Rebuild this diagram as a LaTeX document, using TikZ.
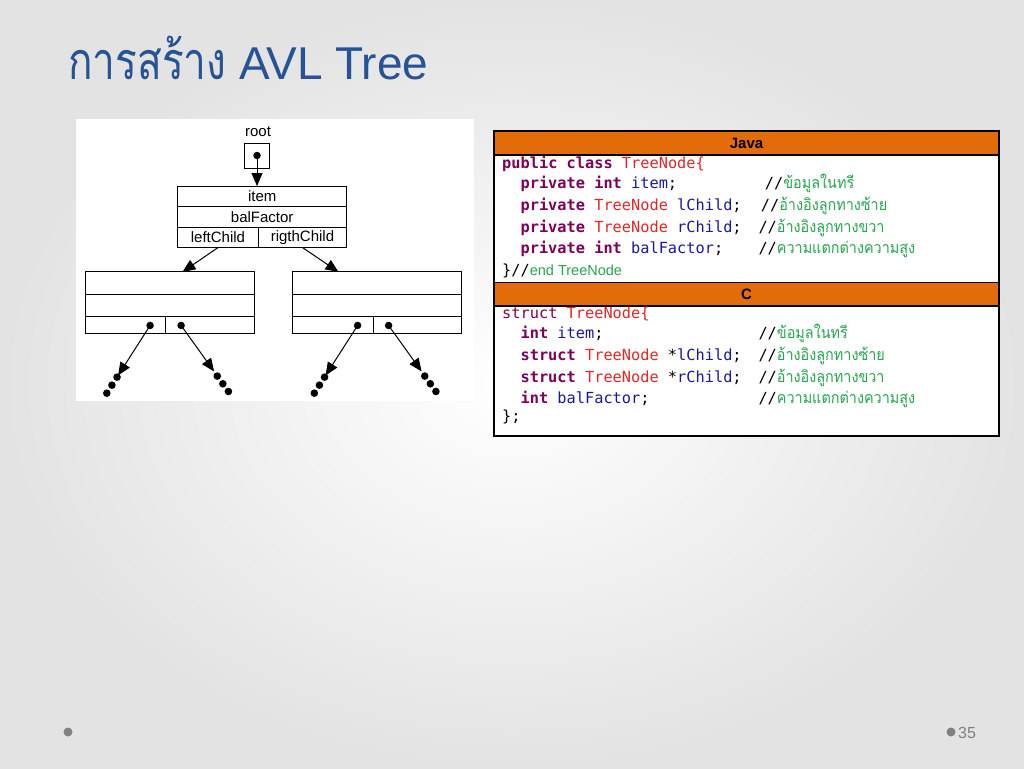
\documentclass[tikz,border=0pt]{standalone}
\usepackage{fontspec}
\setmainfont{Liberation Sans}
\setmonofont{DejaVu Sans Mono}
\newfontfamily\thaifont[Script=Thai,FakeStretch=0.9]{Loma}
\newfontfamily\thaititle[Script=Thai,FakeStretch=0.78]{Loma}
\usetikzlibrary{positioning,arrows.meta,calc}
\definecolor{titleblue}{RGB}{38,82,150}
\definecolor{hdrorange}{RGB}{227,108,10}
\definecolor{kwpurple}{RGB}{127,0,85}
\definecolor{idblue}{RGB}{25,25,160}
\definecolor{typered}{RGB}{225,40,40}
\definecolor{cmtgreen}{RGB}{40,165,80}
\definecolor{footgray}{RGB}{128,128,128}
\newcommand{\kw}[1]{\textcolor{kwpurple}{\textbf{#1}}}
\newcommand{\idn}[1]{\textcolor{idblue}{#1}}
\newcommand{\ty}[1]{\textcolor{typered}{#1}}
\newcommand{\thcmt}[1]{//{\color{cmtgreen}\thaifont\fontsize{16}{16}\selectfont #1}}
\tikzset{
  cell/.style={draw, line width=1pt, inner sep=0pt, outer sep=0pt, minimum height=20.5pt,
    font=\fontsize{15}{15}\selectfont},
  ptr/.style={-{Triangle[length=13pt,width=11pt]}, line width=1pt},
  ptrdot/.style={fill, circle, inner sep=0pt, minimum size=7.5pt},
  hdr/.style={draw, line width=1.2pt, fill=hdrorange, minimum width=505pt, minimum height=24pt,
    inner sep=0pt, outer sep=0pt, font=\fontsize{15}{15}\selectfont\bfseries},
  codebox/.style={draw, line width=1.2pt, fill=white, minimum width=505pt, inner sep=0pt, outer sep=0pt},
  code/.style={anchor=base west, inner sep=0pt, font=\fontsize{15.3}{15.3}\selectfont\ttfamily},
}
\begin{document}
\begin{tikzpicture}[x=1pt,y=-1pt]
  \useasboundingbox (0,0) rectangle (1024,768);
  \shade[inner color=white, outer color=gray!22] (0,0) rectangle (1024,768);
  % title
  \node[anchor=base west, inner sep=0pt, text=titleblue, font=\fontsize{46}{46}\selectfont] (title) at (68,79.5)
    {{\thaititle\fontsize{52}{52}\selectfont การสร้าง} AVL Tree};
  % tree picture
  \fill[white] (76,119) rectangle (474,401);
  \node[font=\fontsize{15}{15}\selectfont] (root) at (258,132) {root};
  \node[draw, line width=1pt, minimum size=25pt] (rootbox) at (257,155.5) {};
  \node[ptrdot] (rootdot) at (rootbox.center) {};
  \node[cell, minimum width=169pt] (item) at (262.2,196.3) {item};
  \node[cell, minimum width=169pt, below=0pt of item] (bal) {balFactor};
  \node[cell, minimum width=80.6pt, anchor=north west] (lc) at (bal.south west) {leftChild};
  \node[cell, minimum width=88.4pt, anchor=north east] (rc) at (bal.south east) {rigthChild};
  \draw[ptr] (rootdot.center) -- (rootdot.center |- item.north);
  \foreach \s/\x in {l/169.5, r/377} {
    \node[cell, minimum width=169pt, minimum height=22.7pt] (\s-top) at (\x,283.3) {};
    \node[cell, minimum width=169pt, minimum height=22.3pt, below=0pt of \s-top] (\s-mid) {};
    \node[cell, minimum width=80.6pt, minimum height=17pt, anchor=north west] (\s-left) at (\s-mid.south west) {};
    \node[cell, minimum width=88.4pt, minimum height=17pt, anchor=north east] (\s-right) at (\s-mid.south east) {};
    \node[ptrdot] (\s-dotA) at ([xshift=-15.5pt]\s-left.east) {};
    \node[ptrdot] (\s-dotB) at ([xshift=15.5pt]\s-left.east) {};
    \coordinate (\s-endA) at ($(\s-dotA)+(-32,50)$);
    \coordinate (\s-endB) at ($(\s-dotB)+(33,46)$);
    \draw[ptr] (\s-dotA.center) -- (\s-endA);
    \draw[ptr] (\s-dotB.center) -- (\s-endB);
    \foreach \t in {2,11.5,21} {
      \fill ($(\s-endA)+(-0.537*\t,0.844*\t)$) circle (3.8);
      \fill ($(\s-endB)+(0.587*\t+2,0.81*\t+3)$) circle (3.8);
    }
  }
  \draw[ptr] (lc.south) -- ([xshift=13pt]l-top.north);
  \draw[ptr] (rc.south) -- ([xshift=-38.5pt]r-top.north);
  % code table
  \node[hdr] (javahdr) at (746.5,143) {Java};
  \node[codebox, minimum height=127.7pt, below=0pt of javahdr] (javabody) {};
  \node[hdr, minimum height=23.3pt, below=0pt of javabody] (chdr) {C};
  \node[codebox, minimum height=130pt, below=0pt of chdr] (cbody) {};
  \node[code] (jl1) at (502,168) {\kw{public class} \ty{TreeNode\{}};
  \node[code] (jl2) at (520.4,188) {\kw{private int} \idn{item};};
  \node[code] (jl3) at (520.4,210) {\kw{private} \ty{TreeNode} \idn{lChild};};
  \node[code] (jl4) at (520.4,232) {\kw{private} \ty{TreeNode} \idn{rChild};};
  \node[code] (jl5) at (520.4,253) {\kw{private int} \idn{balFactor};};
  \node[code] (jl6) at (502,275) {\}//{\color{cmtgreen}\rmfamily\fontsize{14.5}{14.5}\selectfont end TreeNode}};
  \node[code] (jc2) at (764.7,188) {\thcmt{ข้อมูลในทรี}};
  \node[code] (jc3) at (760.7,210) {\thcmt{อ้างอิงลูกทางซ้าย}};
  \node[code] (jc4) at (758.3,232) {\thcmt{อ้างอิงลูกทางขวา}};
  \node[code] (jc5) at (758.3,253) {\thcmt{ความแตกต่างความสูง}};
  \node[code] (cl1) at (502,318) {\textcolor{kwpurple}{struct} \ty{TreeNode\{}};
  \node[code] (cl2) at (520.4,338) {\kw{int} \idn{item};};
  \node[code] (cl3) at (520.4,360) {\kw{struct} \ty{TreeNode} *\idn{lChild};};
  \node[code] (cl4) at (520.4,382) {\kw{struct} \ty{TreeNode} *\idn{rChild};};
  \node[code] (cl5) at (520.4,403) {\kw{int} \idn{balFactor};};
  \node[code] (cl6) at (502,421) {\};};
  \node[code] (cc2) at (758.3,338) {\thcmt{ข้อมูลในทรี}};
  \node[code] (cc3) at (758.3,360) {\thcmt{อ้างอิงลูกทางซ้าย}};
  \node[code] (cc4) at (758.3,382) {\thcmt{อ้างอิงลูกทางขวา}};
  \node[code] (cc5) at (758.3,403) {\thcmt{ความแตกต่างความสูง}};
  % footer
  \fill[footgray] (68,732) circle (4.5);
  \fill[footgray] (951,732) circle (4.5);
  \node[anchor=west, inner sep=0pt, text=footgray, font=\fontsize{16}{16}\selectfont] (pagenum) at (958,733) {35};
\end{tikzpicture}
\end{document}
